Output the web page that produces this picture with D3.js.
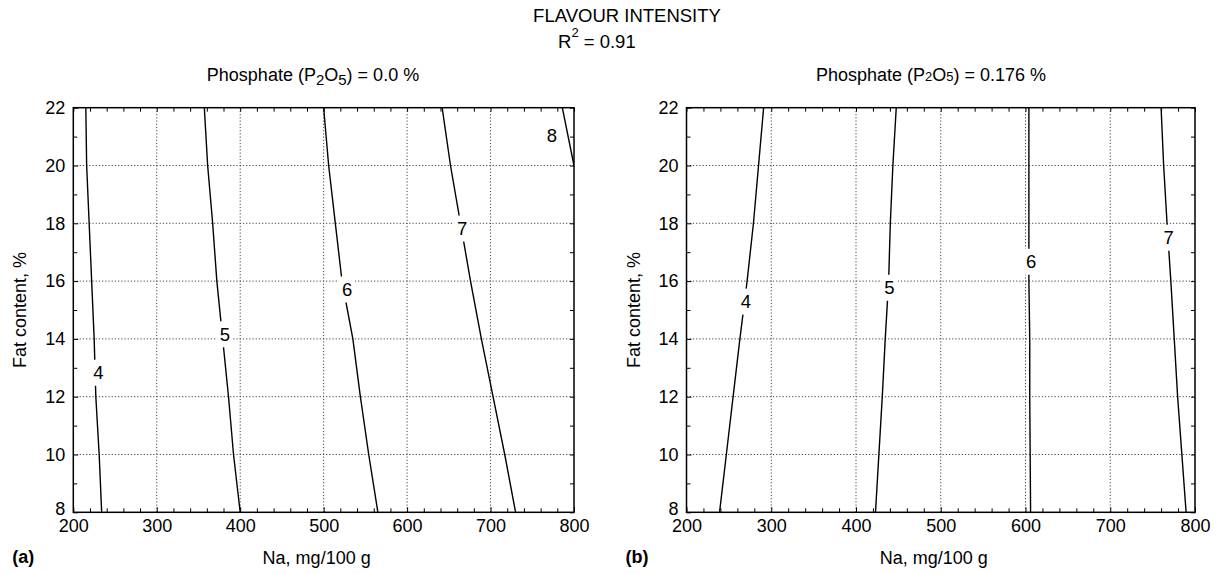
<!DOCTYPE html>
<html>
<head>
<meta charset="utf-8">
<script src="https://cdn.jsdelivr.net/npm/d3@7"></script>
<style>
body { margin: 0; background: #fff; }
text { font-family: "Liberation Sans", Arial, sans-serif; fill: #000; }
.grid line { stroke: #444; stroke-width: 1; stroke-dasharray: 1.2, 2; }
.axis path { display: none; }
.axis line { stroke: #000; stroke-width: 1; }
.contour { fill: none; stroke: #000; stroke-width: 1.4; }
</style>
</head>
<body>
<svg class="chart"></svg>
<script>

//
// data
//

var naTicks = [200, 300, 400, 500, 600, 700, 800];
var fatTicks = [8, 10, 12, 14, 16, 18, 20, 22];

// contour lines, [Na, fat] pairs, panel (a) phosphate 0.0 %
var contourA4 = [[215, 22], [216, 20], [219, 18], [222, 16], [225, 14], [227, 12], [231, 10], [234, 8]];
var contourA5 = [[357, 22], [361, 20], [367, 18], [372, 16], [379, 14], [386, 12], [392, 10], [400, 8]];
var contourA6 = [[500, 22], [506, 20], [514, 18], [522, 16], [535, 14], [544, 12], [554, 10], [565, 8]];
var contourA7 = [[642, 22], [652, 20], [664, 18], [676, 16], [689, 14], [703, 12], [717, 10], [730, 8]];
var contourA8 = [[786, 22], [800, 20]];

// panel (b) phosphate 0.176 %
var contourB4 = [[291, 22], [285, 20], [279, 18], [271.5, 16], [263, 14], [255, 12], [247, 10], [239, 8]];
var contourB5 = [[447.5, 22], [443.5, 20], [440.5, 18], [438.5, 16], [434.5, 14], [431, 12], [427, 10], [423, 8]];
var contourB6 = [[604, 22], [604, 20], [604, 18], [604, 16], [605, 14], [605, 12], [605.5, 10], [606, 8]];
var contourB7 = [[760, 22], [763, 20], [767, 18], [771.5, 16], [775.5, 14], [779.5, 12], [784.5, 10], [789.5, 8]];

// contour label anchors [level, Na, fat]
var labelsA = [[4, 230, 12.83], [5, 381.6, 14.16], [6, 528, 15.71], [7, 666, 17.82], [8, 773.5, 21.06]];
var labelsB = [[4, 270, 15.29], [5, 439.4, 15.77], [6, 606.8, 16.67], [7, 768.8, 17.5]];

var width = 1218, height = 574;

var svg = d3.select(".chart")
    .attr("width", width)
    .attr("height", height);

//
// header
//

svg.append("text")
    .attr("x", 627)
    .attr("y", 22)
    .attr("text-anchor", "middle")
    .style("font-size", "18.5px")
    .text("FLAVOUR INTENSITY");

var r2 = svg.append("text")
    .attr("x", 558)
    .attr("y", 48)
    .style("font-size", "18.5px");
r2.append("tspan").text("R");
r2.append("tspan").attr("dy", -11).style("font-size", "13px").text("2");
r2.append("tspan").attr("dy", 11).text(" = 0.91");

//
// panels
//

var y = d3.scaleLinear().domain([8, 22]).range([512.3, 107.7]);

var panels = [
    {
        x: d3.scaleLinear().domain([200, 800]).range([73.3, 574]),
        contours: [contourA4, contourA5, contourA6, contourA7, contourA8],
        labels: labelsA,
        tag: "(a)",
        title: [["Phosphate (P", 0, 18], ["2", 4, 15], ["O", -4, 18], ["5", 4, 15], [") = 0.0 %", -4, 18]],
        titleX: 313
    },
    {
        x: d3.scaleLinear().domain([200, 800]).range([686.5, 1195]),
        contours: [contourB4, contourB5, contourB6, contourB7],
        labels: labelsB,
        tag: "(b)",
        title: [["Phosphate (P", 0, 18], ["2", 0, 13], ["O", 0, 18], ["5", 0, 13], [") = 0.176 %", 0, 18]],
        titleX: 931
    }
];

var minorNa = d3.range(200, 801, 20).filter(function (d) { return d % 100 !== 0; });
var minorFat = d3.range(9, 22, 2);

panels.forEach(function (p, i) {
    var x = p.x;
    var x0 = x.range()[0], x1 = x.range()[1];
    var y0 = y.range()[1], y1 = y.range()[0];
    var g = svg.append("g");

    var clipId = "clip" + i;
    svg.append("defs").append("clipPath").attr("id", clipId)
        .append("rect")
        .attr("x", x0).attr("y", y0)
        .attr("width", x1 - x0).attr("height", y1 - y0);

    // grid
    var grid = g.append("g").attr("class", "grid");
    grid.selectAll("line.v")
        .data(naTicks.slice(1, -1))
        .enter().append("line")
        .attr("x1", function (d) { return x(d); })
        .attr("x2", function (d) { return x(d); })
        .attr("y1", y0).attr("y2", y1);
    grid.selectAll("line.h")
        .data(fatTicks.slice(1, -1))
        .enter().append("line")
        .attr("y1", function (d) { return y(d); })
        .attr("y2", function (d) { return y(d); })
        .attr("x1", x0).attr("x2", x1);

    // axes, ticks pointing inward
    g.append("g").attr("class", "axis")
        .attr("transform", "translate(0," + y1 + ")")
        .call(d3.axisBottom(x).tickValues(naTicks).tickSize(-5).tickPadding(7))
        .selectAll("text").style("font-size", "18px");
    g.append("g").attr("class", "axis")
        .attr("transform", "translate(0," + y1 + ")")
        .call(d3.axisBottom(x).tickValues(minorNa).tickSize(-4).tickFormat(""));
    g.append("g").attr("class", "axis")
        .attr("transform", "translate(0," + y0 + ")")
        .call(d3.axisTop(x).tickValues(naTicks.concat(minorNa)).tickSize(-4).tickFormat(""));

    g.append("g").attr("class", "axis")
        .attr("transform", "translate(" + x0 + ",0)")
        .call(d3.axisLeft(y).tickValues(fatTicks).tickSize(-5).tickPadding(8))
        .selectAll("text")
        .style("font-size", "18px")
        .attr("dy", function (d) { return d === 8 ? "0.1em" : "0.32em"; });
    g.append("g").attr("class", "axis")
        .attr("transform", "translate(" + x0 + ",0)")
        .call(d3.axisLeft(y).tickValues(minorFat).tickSize(-4).tickFormat(""));
    g.append("g").attr("class", "axis")
        .attr("transform", "translate(" + x1 + ",0)")
        .call(d3.axisRight(y).tickValues(fatTicks.concat(minorFat)).tickSize(-4).tickFormat(""));

    // contours
    var line = d3.line()
        .x(function (d) { return x(d[0]); })
        .y(function (d) { return y(d[1]); });
    g.append("g").attr("clip-path", "url(#" + clipId + ")")
        .selectAll("path")
        .data(p.contours)
        .enter().append("path")
        .attr("class", "contour")
        .attr("d", line);

    // contour labels with white gap
    var lab = g.selectAll("g.lab")
        .data(p.labels)
        .enter().append("g")
        .attr("class", "lab")
        .attr("transform", function (d) {
            return "translate(" + x(d[1]) + "," + y(d[2]) + ")";
        });
    lab.append("rect")
        .attr("x", -8).attr("y", -13)
        .attr("width", 16).attr("height", 26)
        .attr("fill", "#fff");
    lab.append("text")
        .attr("text-anchor", "middle")
        .attr("dy", "0.36em")
        .style("font-size", "18.5px")
        .text(function (d) { return d[0]; });

    // frame
    g.append("rect")
        .attr("x", x0).attr("y", y0)
        .attr("width", x1 - x0).attr("height", y1 - y0)
        .attr("fill", "none")
        .attr("stroke", "#000")
        .attr("stroke-width", 1.5);

    // panel title
    var t = g.append("text")
        .attr("x", p.titleX)
        .attr("y", 81)
        .attr("text-anchor", "middle");
    p.title.forEach(function (part) {
        t.append("tspan")
            .attr("dy", part[1])
            .style("font-size", part[2] + "px")
            .text(part[0]);
    });

    // axis titles
    g.append("text")
        .attr("x", (x0 + x1) / 2 - 7)
        .attr("y", 564)
        .attr("text-anchor", "middle")
        .style("font-size", "18px")
        .text("Na, mg/100 g");
    g.append("text")
        .attr("transform", "translate(" + (x0 - 47) + "," + ((y0 + y1) / 2) + ") rotate(-90)")
        .attr("text-anchor", "middle")
        .style("font-size", "18px")
        .text("Fat content, %");
    g.append("text")
        .attr("x", x0 - 61)
        .attr("y", 563)
        .style("font-size", "18px")
        .style("font-weight", "bold")
        .text(p.tag);
});

</script>
</body>
</html>
